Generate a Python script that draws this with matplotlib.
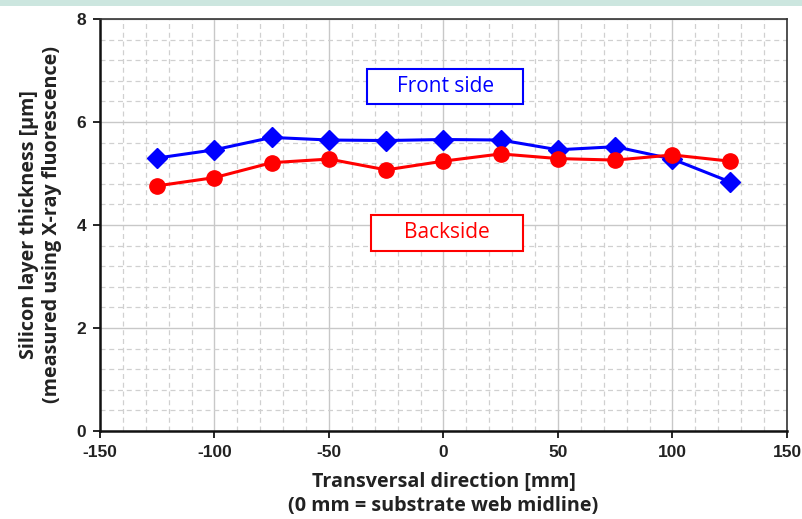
import matplotlib
matplotlib.use("Agg")
import matplotlib.pyplot as plt
from matplotlib.ticker import MultipleLocator
import matplotlib.patches as mpatches

plt.rcParams["axes.unicode_minus"] = False

x_pos = [-125, -100, -75, -50, -25, 0, 25, 50, 75, 100, 125]
front = [5.30, 5.46, 5.70, 5.65, 5.64, 5.66, 5.65, 5.46, 5.52, 5.28, 4.84]
back = [4.76, 4.92, 5.21, 5.28, 5.07, 5.24, 5.38, 5.29, 5.26, 5.36, 5.24]

fig = plt.figure(figsize=(8.03, 5.19), dpi=100)
fig.patches.append(mpatches.Rectangle((0, 1 - 6/519), 1, 6/519, transform=fig.transFigure,
                                      facecolor="#cce6df", edgecolor="none", zorder=0))
ax = fig.add_axes([0.1245, 0.1696, 0.8555, 0.7938])

ax.set_xlim(-150, 150)
ax.set_ylim(0, 8)
ax.xaxis.set_major_locator(MultipleLocator(50))
ax.xaxis.set_minor_locator(MultipleLocator(10))
ax.yaxis.set_major_locator(MultipleLocator(2))
ax.yaxis.set_minor_locator(MultipleLocator(0.4))
ax.grid(which="major", color="#c8c8c8", linestyle="-", linewidth=1.0)
ax.grid(which="minor", color="#d0d0d0", linestyle=(0, (4, 3)), linewidth=0.9)
ax.set_axisbelow(True)
ax.tick_params(which="minor", length=0)
ax.tick_params(which="major", direction="out", length=5, width=1.2, labelsize=12.5, pad=5)
for lab in ax.get_xticklabels() + ax.get_yticklabels():
    lab.set_fontweight("bold")
    lab.set_family("Liberation Sans")
    lab.set_color("#222222")

for s in ["left", "bottom"]:
    ax.spines[s].set_linewidth(1.8)
    ax.spines[s].set_color("#111111")
for s in ["top", "right"]:
    ax.spines[s].set_linewidth(1.2)
    ax.spines[s].set_color("#333333")

ax.plot(x_pos, front, color="#0000ff", linewidth=2.2, marker="D", markersize=10, zorder=3)
ax.plot(x_pos, back, color="#ff0000", linewidth=2.2, marker="o", markersize=11, zorder=4)

# label boxes
for (x0, x1, y0, y1, txt, col) in [(-33.2, 34.9, 6.35, 7.03, "Front side", "#0000ff"),
                                   (-31.6, 34.6, 3.50, 4.20, "Backside", "#ff0000")]:
    ax.add_patch(mpatches.Rectangle((x0, y0), x1 - x0, y1 - y0, facecolor="white",
                                    edgecolor=col, linewidth=1.5, zorder=5))
    ax.text((x0 + x1) / 2, (y0 + y1) / 2, txt, color=col, fontsize=15, family="Open Sans",
            ha="center", va="center", zorder=6)

ax.set_xlabel("Transversal direction [mm]\n(0 mm = substrate web midline)", fontsize=14.2,
              fontweight="bold", family="Open Sans", labelpad=9, linespacing=1.25,
              color="#222222")
ax.set_ylabel("Silicon layer thickness [µm]\n(measured using X-ray fluorescence)", fontsize=14.2,
              fontweight="bold", family="Open Sans", labelpad=10, linespacing=1.2,
              color="#222222")

fig.savefig("out.png", dpi=100)
